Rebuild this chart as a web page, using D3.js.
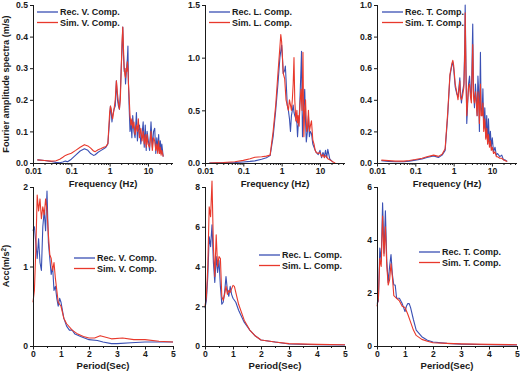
<!DOCTYPE html>
<html><head><meta charset="utf-8">
<script src="https://cdn.jsdelivr.net/npm/d3@7"></script>
<style>body{margin:0;background:#fff}svg{display:block}text{font-family:"Liberation Sans",Arial,sans-serif;font-weight:bold;fill:#1a1a1a}</style>
</head><body><svg id="c" width="520" height="373"></svg>
<script>
// ---- Top row: Fourier amplitude spectra (frequency Hz, amplitude m/s)
const recVf = [0.013,0.02,0.03,0.04,0.05,0.06,0.07,0.08,0.1,0.13,0.17,0.22,0.27,0.32,0.38,0.42,0.5,0.6,0.7,0.8,0.9,1.0,1.05,1.1,1.15,1.2,1.3,1.4,1.5,1.6,1.7,1.8,1.9,2.0,2.1,2.2,2.3,2.4,2.5,2.6,2.7,2.8,2.9,3.0,3.1,3.2,3.4,3.6,3.8,4.0,4.3,4.6,5.0,5.3,5.6,6.0,6.5,7.0,7.5,8.0,8.5,9.0,9.5,10,11,12,13,14,15,16,17,18,19,20,21,22,23,25];
const recVa = [0.01,0.008,0.005,0.002,0.001,0.003,0.006,0.004,0.012,0.025,0.038,0.045,0.04,0.03,0.024,0.026,0.034,0.04,0.045,0.05,0.06,0.14,0.18,0.16,0.13,0.15,0.17,0.18,0.26,0.2,0.18,0.17,0.22,0.3,0.36,0.43,0.34,0.29,0.3,0.25,0.28,0.31,0.33,0.37,0.25,0.19,0.1,0.13,0.08,0.15,0.1,0.08,0.16,0.07,0.1,0.12,0.06,0.09,0.13,0.05,0.12,0.04,0.1,0.08,0.04,0.13,0.05,0.1,0.11,0.03,0.08,0.04,0.09,0.03,0.07,0.03,0.06,0.02];
const simVf = [0.013,0.02,0.03,0.04,0.05,0.06,0.07,0.08,0.1,0.13,0.17,0.22,0.27,0.32,0.38,0.42,0.5,0.6,0.7,0.8,0.9,1.0,1.05,1.1,1.15,1.2,1.3,1.4,1.5,1.6,1.7,1.8,1.9,2.0,2.1,2.2,2.3,2.4,2.5,2.6,2.7,2.8,2.9,3.0,3.1,3.2,3.4,3.6,3.8,4.0,4.3,4.6,5.0,5.3,5.6,6.0,6.5,7.0,7.5,8.0,8.5,9.0,9.5,10,11,12,13,14,15,16,17,18,19,20,21,22,23,25];
const simVa = [0.01,0.008,0.006,0.007,0.012,0.018,0.024,0.027,0.031,0.04,0.05,0.058,0.054,0.047,0.038,0.036,0.042,0.046,0.05,0.052,0.062,0.16,0.18,0.17,0.15,0.14,0.17,0.2,0.26,0.22,0.19,0.17,0.2,0.29,0.38,0.43,0.36,0.3,0.28,0.27,0.3,0.29,0.32,0.3,0.25,0.22,0.15,0.12,0.14,0.11,0.13,0.09,0.12,0.1,0.14,0.08,0.11,0.07,0.1,0.06,0.09,0.05,0.09,0.06,0.05,0.1,0.04,0.08,0.07,0.04,0.06,0.03,0.07,0.03,0.05,0.025,0.04,0.02];

const recLf = [0.013,0.03,0.06,0.1,0.15,0.2,0.3,0.4,0.5,0.6,0.7,0.8,0.9,1.0,1.05,1.1,1.2,1.25,1.3,1.4,1.5,1.6,1.7,1.8,1.9,2.0,2.1,2.2,2.35,2.5,2.6,2.7,2.85,3.0,3.2,3.3,3.4,3.5,3.7,4.0,4.2,4.4,4.7,5.0,5.3,5.6,6.0,6.5,7.0,7.5,8.0,9.0,10,11,12,13,14,15,16,18,20,22];
const recLa = [0.0,0.002,0.005,0.01,0.015,0.02,0.035,0.05,0.07,0.25,0.5,0.75,1.0,1.12,1.0,0.85,0.88,0.92,0.8,0.55,0.5,0.42,0.3,0.45,0.5,0.55,0.48,0.45,0.42,0.38,0.25,0.35,0.4,0.6,0.9,1.06,0.6,0.25,0.45,0.7,0.4,0.2,0.3,0.45,0.25,0.3,0.28,0.18,0.15,0.12,0.1,0.08,0.12,0.05,0.1,0.06,0.12,0.05,0.13,0.04,0.02,0.01];
const simLf = [0.013,0.03,0.06,0.1,0.15,0.2,0.3,0.4,0.5,0.6,0.7,0.8,0.9,0.95,1.0,1.05,1.1,1.2,1.3,1.4,1.5,1.6,1.7,1.8,1.9,2.0,2.1,2.2,2.35,2.5,2.6,2.7,2.85,3.0,3.2,3.4,3.6,3.7,3.8,4.0,4.2,4.5,4.8,5.0,5.3,5.6,6.0,6.5,7.0,7.5,8.0,9.0,10,11,12,13,14,15,16,18,20,22,25];
const simLa = [0.0,0.005,0.012,0.025,0.04,0.055,0.06,0.065,0.075,0.3,0.55,0.85,1.1,1.22,1.15,1.0,0.85,0.8,0.6,0.55,0.5,0.6,0.55,0.5,0.6,0.75,1.0,0.6,0.4,0.5,0.38,0.45,0.35,0.55,0.7,0.5,1.05,0.6,0.25,0.5,0.6,0.3,0.35,0.5,0.3,0.35,0.4,0.22,0.18,0.12,0.1,0.09,0.1,0.06,0.08,0.05,0.07,0.06,0.04,0.03,0.02,0.01,0.0];

const recTf = [0.013,0.02,0.03,0.05,0.07,0.1,0.15,0.2,0.3,0.4,0.5,0.6,0.7,0.8,0.9,0.95,1.0,1.1,1.2,1.3,1.4,1.45,1.5,1.6,1.7,1.85,1.95,2.0,2.1,2.2,2.3,2.45,2.6,2.75,2.9,3.05,3.15,3.3,3.5,3.7,3.9,4.1,4.3,4.5,4.7,5.0,5.2,5.5,5.8,6.1,6.5,6.9,7.3,7.7,8.1,8.6,9.1,9.6,10.2,11,12,13,14,16,18,20,22,25];
const recTa = [0.015,0.01,0.008,0.008,0.012,0.018,0.025,0.035,0.045,0.035,0.05,0.08,0.3,0.55,0.62,0.64,0.6,0.48,0.44,0.42,0.5,0.54,0.45,0.38,0.45,0.5,0.75,1.0,0.6,0.25,0.35,0.5,0.55,0.45,0.4,0.7,0.88,0.45,0.35,0.5,0.4,0.3,0.55,0.45,0.2,0.7,0.35,0.3,0.47,0.22,0.35,0.16,0.3,0.12,0.28,0.12,0.2,0.1,0.16,0.07,0.1,0.05,0.06,0.04,0.05,0.02,0.02,0.01];
const simTf = [0.013,0.02,0.03,0.05,0.07,0.1,0.15,0.2,0.3,0.4,0.5,0.6,0.7,0.8,0.9,0.95,1.0,1.1,1.2,1.3,1.4,1.45,1.5,1.6,1.7,1.85,1.95,2.0,2.1,2.2,2.3,2.45,2.6,2.75,2.9,3.05,3.15,3.3,3.5,3.7,3.9,4.1,4.3,4.5,4.7,5.0,5.2,5.5,5.8,6.1,6.5,6.9,7.3,7.7,8.1,8.6,9.1,9.6,10.2,11,12,13,14,16,18,20,22,25];
const simTa = [0.018,0.015,0.012,0.012,0.016,0.022,0.03,0.04,0.05,0.042,0.055,0.09,0.32,0.56,0.63,0.65,0.62,0.5,0.45,0.4,0.48,0.52,0.42,0.4,0.42,0.48,0.7,0.95,0.55,0.3,0.38,0.48,0.5,0.42,0.38,0.6,0.75,0.42,0.38,0.45,0.38,0.3,0.45,0.38,0.25,0.5,0.3,0.3,0.38,0.2,0.28,0.15,0.22,0.12,0.18,0.1,0.14,0.08,0.1,0.06,0.07,0.04,0.04,0.03,0.03,0.02,0.015,0.01];

// ---- Bottom row: response spectra (period s, acc m/s^2)
const recVp = [0,0.05,0.1,0.15,0.2,0.25,0.3,0.35,0.4,0.45,0.5,0.55,0.6,0.65,0.7,0.75,0.8,0.85,0.9,0.95,1.0,1.1,1.2,1.3,1.4,1.5,1.7,2.0,2.3,2.5,2.8,3.0,3.5,4.0,4.5,5.0];
const recVs = [1.45,1.5,1.3,1.1,1.35,1.05,0.95,1.5,1.7,1.45,1.95,1.3,1.1,0.9,1.0,0.7,0.75,0.6,0.5,0.6,0.55,0.35,0.25,0.2,0.2,0.15,0.12,0.08,0.07,0.05,0.03,0.03,0.04,0.05,0.05,0.05];
const simVp = [0,0.05,0.1,0.15,0.2,0.25,0.3,0.35,0.4,0.45,0.5,0.55,0.6,0.65,0.7,0.75,0.8,0.9,1.0,1.1,1.2,1.4,1.6,1.8,2.0,2.2,2.4,2.6,2.8,3.2,3.6,4.0,4.5,5.0];
const simVs = [0.55,0.7,1.2,1.9,1.7,1.85,1.6,1.75,1.65,1.85,1.7,1.4,1.15,1.1,0.95,1.05,0.85,0.55,0.5,0.35,0.28,0.2,0.15,0.12,0.1,0.1,0.13,0.11,0.09,0.1,0.08,0.08,0.06,0.05];

const recLp = [0,0.05,0.1,0.15,0.2,0.25,0.3,0.35,0.4,0.45,0.5,0.55,0.6,0.65,0.7,0.75,0.8,0.85,0.9,0.95,1.0,1.1,1.2,1.4,1.6,1.8,2.0,2.5,3.0,4.0,5.0];
const recLs = [1.9,2.3,3.5,5.5,5.0,6.1,4.2,3.2,4.5,3.7,4.3,3.0,2.1,2.2,2.7,3.5,2.8,2.5,3.0,2.6,2.4,2.2,1.8,1.2,0.8,0.5,0.3,0.2,0.1,0.06,0.05];
const simLp = [0,0.05,0.1,0.15,0.2,0.25,0.3,0.35,0.4,0.45,0.5,0.55,0.6,0.65,0.7,0.75,0.8,0.85,0.9,1.0,1.05,1.1,1.2,1.4,1.6,1.8,2.0,2.5,3.0,4.0,5.0];
const simLs = [2.0,2.5,4.0,7.0,6.5,8.3,5.0,3.5,5.6,4.0,4.5,4.4,2.5,2.3,2.6,3.0,2.6,2.8,2.7,3.05,3.0,2.7,2.1,1.3,0.8,0.5,0.3,0.2,0.12,0.08,0.06];

const recTp = [0,0.05,0.1,0.15,0.2,0.25,0.3,0.35,0.4,0.45,0.5,0.55,0.6,0.65,0.7,0.8,0.9,1.0,1.05,1.1,1.15,1.2,1.3,1.4,1.6,1.8,2.0,2.5,3.0,4.0,5.0];
const recTs = [1.6,1.7,3.7,3.2,5.4,3.5,5.1,3.2,2.4,3.0,3.45,2.7,2.3,2.3,1.8,1.8,1.6,1.3,1.5,1.6,1.6,1.45,1.0,0.6,0.35,0.22,0.15,0.1,0.07,0.05,0.04];
const simTp = [0,0.05,0.1,0.15,0.2,0.25,0.3,0.35,0.4,0.45,0.5,0.55,0.6,0.7,0.8,0.9,1.0,1.1,1.2,1.3,1.4,1.6,1.8,2.0,2.5,3.0,4.0,5.0];
const simTs = [1.5,1.8,3.3,3.0,4.9,3.4,4.5,3.0,2.3,2.5,3.1,2.6,1.9,1.8,1.7,1.5,1.45,1.2,0.9,0.6,0.4,0.25,0.18,0.12,0.1,0.08,0.06,0.05];

const topYTicks = [[0,0.1,0.2,0.3,0.4,0.5],[0,0.5,1.0,1.5],[0,0.2,0.4,0.6,0.8,1.0]];
const botYTicks = [[0,1,2],[0,2,4,6,8],[0,2,4,6]];
const freqTicks = [0.01,0.1,1,10];
const periodTicks = [0,1,2,3,4,5];
const compNames = ["V","L","T"];

const BLUE = "#3a50b4", RED = "#e8392c";
const svg = d3.select("#c");
const lefts = [33, 205, 377];
const W = 140;

function drawLegend(g, x, y, comp){
  [["Rec. "+comp+". Comp.",BLUE],["Sim. "+comp+". Comp.",RED]].forEach((d,i)=>{
    g.append("line").attr("x1",x).attr("x2",x+21).attr("y1",y+i*10.5).attr("y2",y+i*10.5)
      .attr("stroke",d[1]).attr("stroke-width",1.3);
    g.append("text").attr("x",x+23).attr("y",y+i*10.5+3.3).attr("font-size",9).text(d[0]);
  });
}

function panel(i, top, bottom, xs, ys, fmtY, data, xTicks, xLabel, isLog, legPos, labOff){
  const g = svg.append("g");
  const x0 = lefts[i];
  const x = xs.range([x0, x0+W]);
  const y = ys.range([bottom, top]);
  const line = d3.line().x(d=>x(d[0])).y(d=>y(d[1]));
  data.forEach(s=>{
    g.append("path").datum(d3.zip(s.x,s.y)).attr("d",line).attr("fill","none")
      .attr("stroke",s.c).attr("stroke-width",1.1).attr("stroke-linejoin","round");
  });
  const xa = g.append("g").attr("transform",`translate(0,${bottom})`);
  if(isLog){
    const minor=[];
    [0.01,0.1,1,10].forEach(b=>{for(let k=2;k<=9;k++){const v=b*k; if(v<=x.domain()[1]) minor.push(v);}});
    xa.append("g").call(d3.axisBottom(x).tickValues(minor).tickSize(2).tickFormat(""));
    xa.append("g").call(d3.axisBottom(x).tickValues(xTicks).tickSize(3.5).tickPadding(1.5).tickFormat(d=>d>=1?d3.format("d")(d):d3.format("")(d)));
  } else {
    xa.append("g").call(d3.axisBottom(x).tickValues(d3.range(0,5.01,0.5)).tickSize(2).tickFormat(""));
    xa.append("g").call(d3.axisBottom(x).tickValues(xTicks).tickSize(3.5).tickPadding(1.5).tickFormat(d3.format("d")));
  }
  xa.selectAll(".domain").attr("d",`M${x0},0.5H${x0+W}`);
  const ya = g.append("g").attr("transform",`translate(${x0},0)`)
    .call(d3.axisLeft(y).tickValues(ys.ticksArr).tickSize(3).tickPadding(2).tickFormat(fmtY));
  ya.selectAll(".domain").attr("d",`M0.5,${bottom}V${top}`);
  [xa,ya].forEach(a=>{
    a.selectAll("path,line").attr("stroke","#1a1a1a").attr("stroke-width",1);
    a.selectAll("text").attr("font-size",8.6).attr("font-family","Liberation Sans, Arial, sans-serif").attr("font-weight","bold").attr("fill","#1a1a1a");
  });
  g.append("text").attr("x",x0+W/2).attr("y",bottom+labOff).attr("text-anchor","middle").attr("font-size",9.5).text(xLabel);
  drawLegend(g, legPos[0], legPos[1], compNames[i]);
}

const topData = [
  [{x:recVf,y:recVa,c:BLUE},{x:simVf,y:simVa,c:RED}],
  [{x:recLf,y:recLa,c:BLUE},{x:simLf,y:simLa,c:RED}],
  [{x:recTf,y:recTa,c:BLUE},{x:simTf,y:simTa,c:RED}]
];
const botData = [
  [{x:recVp,y:recVs,c:BLUE},{x:simVp,y:simVs,c:RED}],
  [{x:recLp,y:recLs,c:BLUE},{x:simLp,y:simLs,c:RED}],
  [{x:recTp,y:recTs,c:BLUE},{x:simTp,y:simTs,c:RED}]
];
const topMax = [0.5,1.5,1.0];
const botMax = [2,8,6];
const topLeg = [[37,12],[209,12],[382,12]];
const botLeg = [[74,258],[259,255],[419,252]];

for(let i=0;i<3;i++){
  const ys = d3.scaleLinear().domain([0,topMax[i]]); ys.ticksArr = topYTicks[i];
  panel(i, 5, 163, d3.scaleLog().domain([0.01,45]), ys, d3.format(".1f"), topData[i], freqTicks, "Frequency (Hz)", true, topLeg[i], 24);
  const yb = d3.scaleLinear().domain([0,botMax[i]]); yb.ticksArr = botYTicks[i];
  panel(i, 187, 346, d3.scaleLinear().domain([0,5]), yb, d3.format("d"), botData[i], periodTicks, "Period(Sec)", false, botLeg[i], 23);
}
svg.append("text").attr("transform","translate(9,84) rotate(-90)").attr("text-anchor","middle").attr("font-size",9.2).text("Fourier amplitude spectra (m/s)");
const acc = svg.append("text").attr("transform","translate(9,266) rotate(-90)").attr("text-anchor","middle").attr("font-size",9.2);
acc.append("tspan").text("Acc(m/s");
acc.append("tspan").attr("font-size",6.5).attr("dy",-3).text("2");
acc.append("tspan").attr("dy",3).text(")");
</script></body></html>
